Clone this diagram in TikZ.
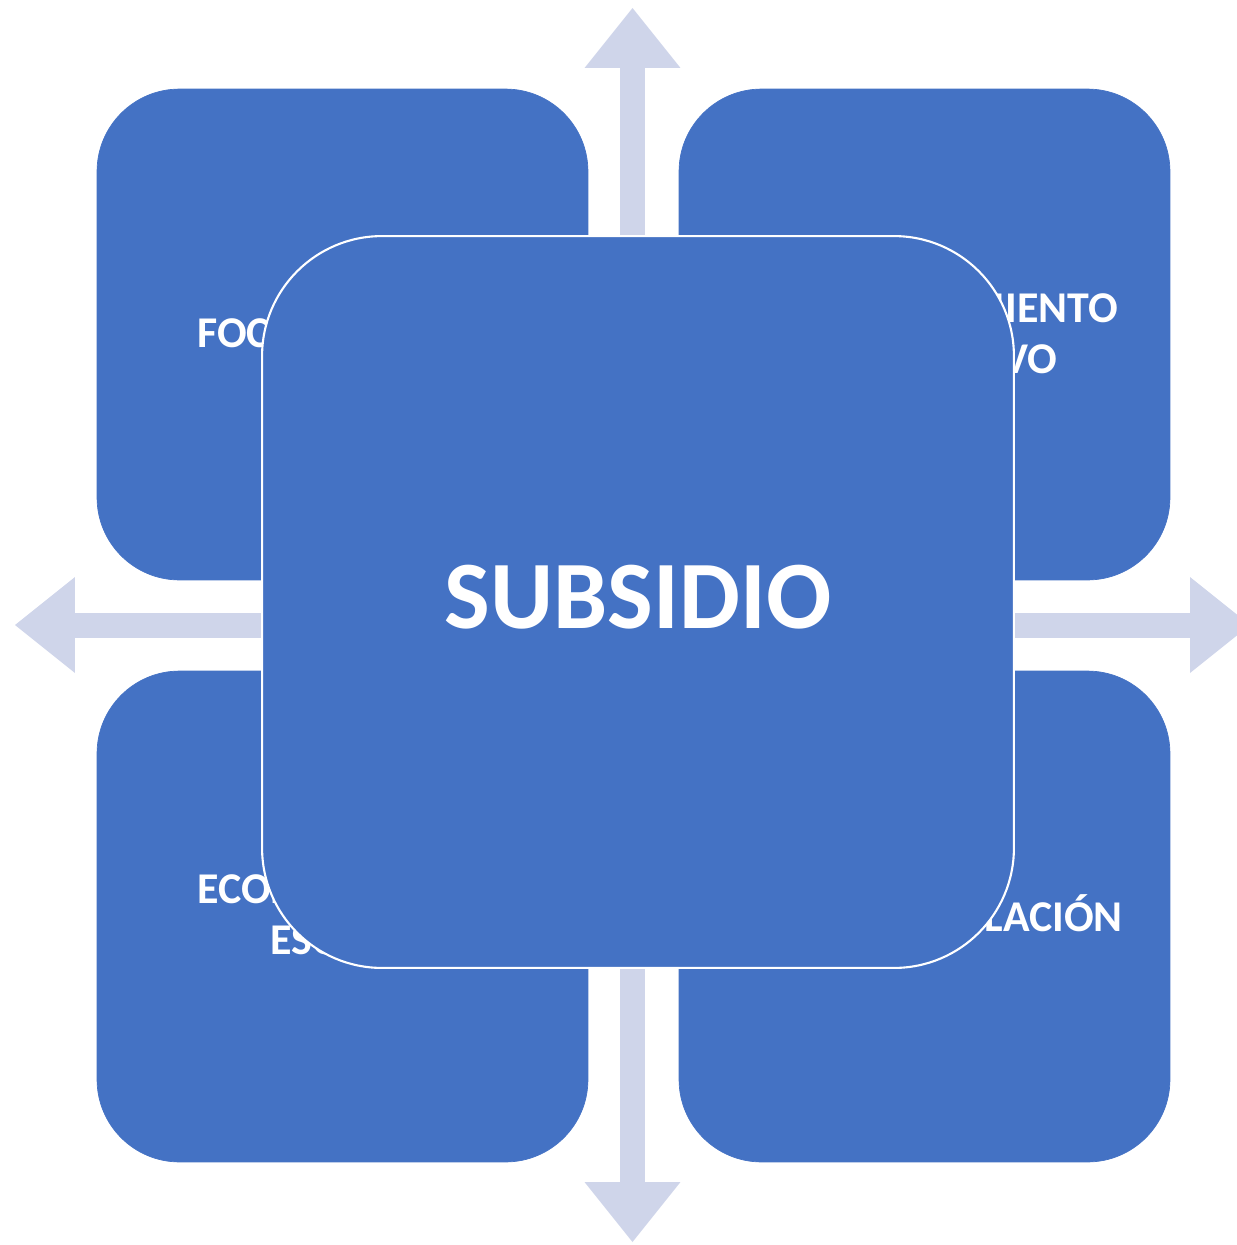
\documentclass[tikz,border=0pt]{standalone}
\usepackage{fontspec}
\setmainfont{Carlito}
\usetikzlibrary{arrows.meta}

\definecolor{boxblue}{HTML}{4472C4}
\definecolor{axislav}{HTML}{CFD5EA}

\tikzset{
  cornerbox/.style={draw=boxblue, fill=boxblue, rectangle, rounded corners=1.65cm,
    minimum width=9.82cm, minimum height=9.82cm, inner sep=0pt},
  centerbox/.style={draw=white, line width=1.2pt, fill=boxblue, rectangle, rounded corners=2.4cm,
    minimum width=15.04cm, minimum height=14.64cm, text=white, text depth=0.2cm,
    font=\bfseries\fontsize{55}{60}\selectfont},
  cornerlabel/.style={text=white, inner sep=0pt, font=\bfseries\fontsize{25}{30}\selectfont},
  axisarrow/.style={draw=axislav, line width=0.5cm,
    {Triangle[length=1.2cm,width=1.92cm,line width=0pt]}-{Triangle[length=1.2cm,width=1.92cm,line width=0pt]}}
}

\begin{document}
\begin{tikzpicture}[x=0.02cm,y=-0.02cm]
    \useasboundingbox (0,0) rectangle (1237,1245);

    % Cross of arrows
    \coordinate (axisN) at (632.5,8);
    \coordinate (axisS) at (632.5,1242);
    \coordinate (axisW) at (15,625);
    \coordinate (axisE) at (1250,625);
    \draw[axisarrow] (axisS) -- (axisN);
    \draw[axisarrow] (axisW) -- (axisE);

    % Corner boxes
    \node[cornerbox] (boxTL) at (342.5,334.5) {};
    \node[cornerbox] (boxTR) at (924.5,334.5) {};
    \node[cornerbox] (boxBL) at (342.5,916.5) {};
    \node[cornerbox] (boxBR) at (924.5,916.5) {};

    % Corner texts
    \node[cornerlabel, anchor=base west] (lblTL) at (197,347) {FOCALIZACIÓN};
    \node[cornerlabel, anchor=base east] (lblTRa) at (1118,322) {FINANCIAMIENTO};
    \node[cornerlabel, anchor=base east] (lblTRb) at (1058,373) {EFECTIVO};
    \node[cornerlabel, anchor=base west] (lblBLa) at (197,903) {ECONOMÍA DE};
    \node[cornerlabel, anchor=base west] (lblBLb) at (270,954) {ESCALA};
    \node[cornerlabel, anchor=base east] (lblBR) at (1123,931) {REGULACIÓN};

    % Centre
    \node[centerbox] (subsidio) at (638,602) {SUBSIDIO};
\end{tikzpicture}
\end{document}
